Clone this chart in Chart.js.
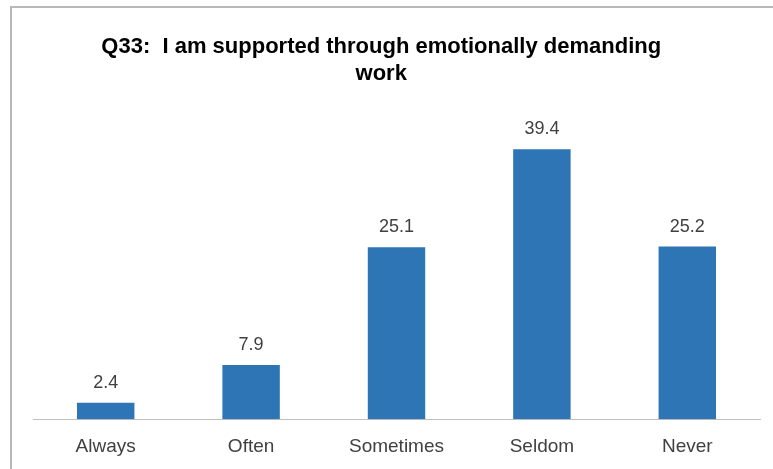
<!DOCTYPE html>
<html>
<head>
<meta charset="utf-8">
<script src="https://cdn.jsdelivr.net/npm/chart.js@4.4.1/dist/chart.umd.min.js"></script>
<style>
  html, body { margin: 0; padding: 0; background: #fff; }
  #wrap { width: 773px; height: 469px; position: relative; }
</style>
</head>
<body>
<div id="wrap"><canvas id="c" width="773" height="469"></canvas></div>
<script>
const categories = ["Always", "Often", "Sometimes", "Seldom", "Never"];
const values = [2.4, 7.9, 25.1, 39.4, 25.2];
const titleLines = ["Q33:  I am supported through emotionally demanding", "work"];

const frame = {
  id: 'frame',
  beforeDraw(chart) {
    const ctx = chart.ctx;
    ctx.save();
    ctx.fillStyle = '#fff';
    ctx.fillRect(0, 0, chart.width, chart.height);
    ctx.strokeStyle = '#b8b8b8';
    ctx.lineWidth = 2;
    ctx.beginPath();
    ctx.moveTo(11, 469);
    ctx.lineTo(11, 7);
    ctx.lineTo(773, 7);
    ctx.stroke();
    ctx.restore();
  }
};

const valueLabels = {
  id: 'valueLabels',
  afterDatasetsDraw(chart) {
    const ctx = chart.ctx;
    const meta = chart.getDatasetMeta(0);
    ctx.save();
    ctx.font = '18px "Liberation Sans", Arial, sans-serif';
    ctx.fillStyle = '#404040';
    ctx.textAlign = 'center';
    ctx.textBaseline = 'alphabetic';
    meta.data.forEach((bar, i) => {
      ctx.fillText(values[i].toFixed(1), bar.x, bar.y - 15);
    });
    ctx.restore();
  }
};

// pad title lines on the right so they sit slightly left of the plot centre, as in the reference
const paddedTitle = titleLines.map(t => t + '     ');

new Chart(document.getElementById('c'), {
  type: 'bar',
  data: {
    labels: categories,
    datasets: [{
      data: values,
      backgroundColor: '#2E75B6',
      borderWidth: 0,
      categoryPercentage: 1,
      barPercentage: 0.395
    }]
  },
  options: {
    responsive: false,
    animation: false,
    layout: { padding: { left: 33, right: 13, top: 0, bottom: -5 } },
    plugins: {
      legend: { display: false },
      tooltip: { enabled: false },
      title: {
        display: true,
        text: paddedTitle,
        color: '#000',
        font: { family: '"Liberation Sans", Arial, sans-serif', size: 22, weight: 'bold', lineHeight: 1.227 },
        padding: { top: 33, bottom: 24 }
      }
    },
    scales: {
      x: {
        grid: { display: false, drawTicks: false },
        border: { display: true, color: '#bfbfbf', width: 1 },
        ticks: {
          color: '#404040',
          font: { family: '"Liberation Sans", Arial, sans-serif', size: 19 },
          padding: 16,
          maxRotation: 0
        }
      },
      y: {
        display: false,
        min: 0,
        max: 45
      }
    }
  },
  plugins: [frame, valueLabels]
});
</script>
</body>
</html>
